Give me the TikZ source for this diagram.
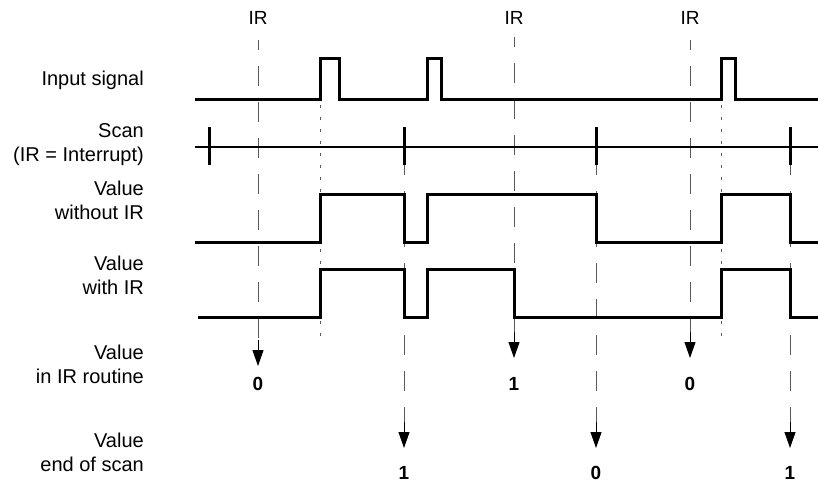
\documentclass[tikz,border=0pt]{standalone}
\usepackage{fontspec}
\setmainfont{Liberation Sans}
\usetikzlibrary{arrows.meta}
\begin{document}
\begin{tikzpicture}[x=1pt,y=-1pt,
 lbl/.style={anchor=east,align=right,font=\fontsize{20}{24}\selectfont,inner sep=0pt},
 irlbl/.style={font=\fontsize{19}{20}\selectfont,inner sep=0pt},
 val/.style={font=\bfseries\fontsize{19}{20}\selectfont,inner sep=0pt},
 sig/.style={line width=3pt,line join=miter},
 tick/.style={line width=3pt},
 guide/.style={line width=1pt,black!65,dash pattern=on 20pt off 16pt,dash phase=10pt},
 dotguide/.style={line width=1pt,black!65,dash pattern=on 3pt off 9pt},
 arr/.style={line width=1pt,-{Triangle[length=16pt,width=11pt]}}]
\useasboundingbox (0,0) rectangle (818,482);
% left labels
\node[lbl] (linput) at (144,80) {Input signal};
\node[lbl] (lscan) at (144,144.5) {Scan\\(IR = Interrupt)};
\node[lbl] (lwo) at (144,200.5) {Value\\without IR};
\node[lbl] (lwi) at (144,275.5) {Value\\with IR};
\node[lbl] (lroutine) at (144,364) {Value\\in IR routine};
\node[lbl] (lend) at (144,452.5) {Value\\end of scan};
% IR labels
\node[irlbl] (ir1) at (258,18) {IR};
\node[irlbl] (ir2) at (514,18) {IR};
\node[irlbl] (ir3) at (690,18) {IR};
% values
\node[val] (v1) at (258,384) {0};
\node[val] (v2) at (514,384) {1};
\node[val] (v3) at (690,384) {0};
\node[val] (e1) at (404,473) {1};
\node[val] (e2) at (596,473) {0};
\node[val] (e3) at (790,473) {1};
% coordinates
\coordinate (t1) at (258,40); \coordinate (b1) at (258,340); \coordinate (p1) at (258,366);
\coordinate (t2) at (514,37); \coordinate (b2) at (514,332); \coordinate (p2) at (514,358);
\coordinate (t3) at (690,40); \coordinate (b3) at (690,332); \coordinate (p3) at (690,358);
\coordinate (s1) at (404,165); \coordinate (c1) at (404,422); \coordinate (q1) at (404,448);
\coordinate (s2) at (596,165); \coordinate (c2) at (596,422); \coordinate (q2) at (596,448);
\coordinate (s3) at (790,165); \coordinate (c3) at (790,422); \coordinate (q3) at (790,448);
\coordinate (d1t) at (320,105); \coordinate (d1b) at (320,340);
\coordinate (d2t) at (721,105); \coordinate (d2b) at (721,338);
% guides
\draw[guide] (t1) -- (b1); \draw[arr] (b1) -- (p1);
\draw[guide] (t2) -- (b2); \draw[arr] (b2) -- (p2);
\draw[guide] (t3) -- (b3); \draw[arr] (b3) -- (p3);
\draw[guide] (s1) -- (c1); \draw[arr] (c1) -- (q1);
\draw[guide] (s2) -- (c2); \draw[arr] (c2) -- (q2);
\draw[guide] (s3) -- (c3); \draw[arr] (c3) -- (q3);
\draw[dotguide] (d1t) -- (d1b);
\draw[dotguide] (d2t) -- (d2b);
% input signal
\draw[sig] (195,99) -- (320,99) -- (320,58) -- (339,58) -- (339,99) -- (427,99) -- (427,58) -- (441,58) -- (441,99) -- (721,99) -- (721,58) -- (735,58) -- (735,99) -- (818,99);
% scan
\draw[line width=2.6pt] (195,147) -- (818,147);
\foreach \x in {209,404,596,790} \draw[tick] (\x,127) -- (\x,165);
% value without IR
\draw[sig] (195,242) -- (320,242) -- (320,194) -- (404,194) -- (404,242) -- (427,242) -- (427,194) -- (596,194) -- (596,242) -- (721,242) -- (721,194) -- (790,194) -- (790,242) -- (818,242);
% value with IR
\draw[sig] (198,317) -- (320,317) -- (320,269) -- (404,269) -- (404,317) -- (427,317) -- (427,269) -- (514,269) -- (514,317) -- (721,317) -- (721,269) -- (790,269) -- (790,317) -- (818,317);
\end{tikzpicture}
\end{document}
